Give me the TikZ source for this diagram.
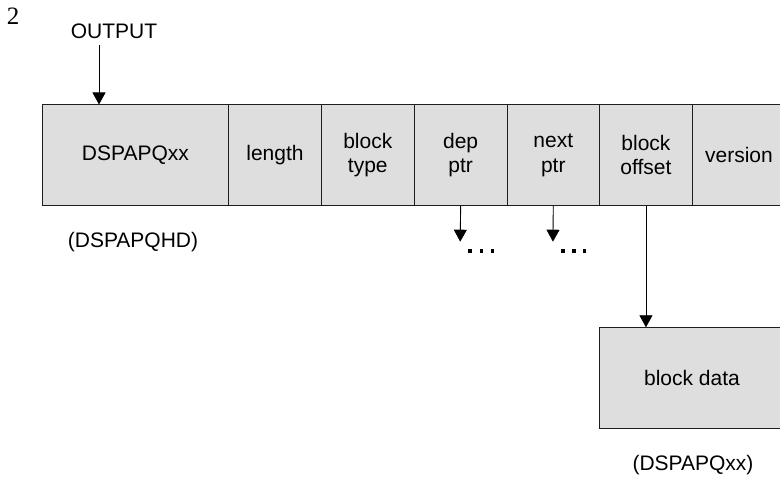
\documentclass[tikz,border=0pt]{standalone}
\usepackage{fontspec}
\setmainfont{Liberation Sans}
\newfontfamily\seriffont{Liberation Serif}
\usetikzlibrary{arrows.meta}
\definecolor{cellgray}{RGB}{222,222,222}
\definecolor{inkline}{RGB}{30,30,30}
\tikzset{
  cell/.style={draw=inkline, line width=0.9pt, fill=cellgray, anchor=north west,
    inner sep=0pt, minimum height=100.5pt, align=center,
    font=\fontsize{21}{24.5}\selectfont},
  lbl/.style={inner sep=0pt, font=\fontsize{21}{24.5}\selectfont},
  dotmark/.style={fill=black, inner sep=0pt, minimum size=3.6pt, rectangle},
  arr/.style={draw=black, line width=0.9pt, -{Triangle[width=13pt,length=12pt]}}
}
\begin{document}
\begin{tikzpicture}[x=1pt,y=-1pt]
\useasboundingbox (0,0) rectangle (780,478);
\clip (0,0) rectangle (780,478);
\node[inner sep=0pt, font=\seriffont\fontsize{25}{28}\selectfont] (num) at (13,16) {2};
\node[lbl] (out) at (114,31) {OUTPUT};
\coordinate (outstart) at (99,45);
% main row
\node[cell, minimum width=186pt] (dsp) at (42,104.5) {DSPAPQxx};
\node[cell, minimum width=93pt] (len) at (228,104.5) {length};
\node[cell, minimum width=92.7pt] (btype) at (321,104.5) {block\\type};
\node[cell, minimum width=93pt] (dep) at (413.7,104.5) {dep\\ptr};
\node[cell, minimum width=92.3pt] (next) at (506.7,104.5) {next\\ptr};
\node[cell, minimum width=93pt] (boff) at (599,104.5) {block\\offset};
\node[cell, minimum width=93pt] (ver) at (692,104.5) {version};
\node[lbl] (hd) at (133,242) {(DSPAPQHD)};
% dots
\coordinate (depend) at (460.2,241.7);
\coordinate (nextend) at (552.9,241.7);
\node[dotmark] (d1) at (470,251) {};
\node[dotmark] (d2) at (481.5,251) {};
\node[dotmark] (d3) at (492.5,251) {};
\node[dotmark] (e1) at (563,251) {};
\node[dotmark] (e2) at (573.7,251) {};
\node[dotmark] (e3) at (584.5,251) {};
% block data
\node[cell, minimum width=190pt, minimum height=100.4pt] (bdata) at (599,327.3) {};
\node[lbl] (bdlabel) at (692,378) {block data};
\node[lbl] (xx) at (693,465) {(DSPAPQxx)};
% connectors
\draw[arr] (outstart) -- (outstart |- dsp.north);
\draw[arr] (dep.south) -- (depend);
\draw[arr] (next.south) -- (nextend);
\draw[arr] (boff.south) -- (boff.south |- bdata.north);
\end{tikzpicture}
\end{document}
